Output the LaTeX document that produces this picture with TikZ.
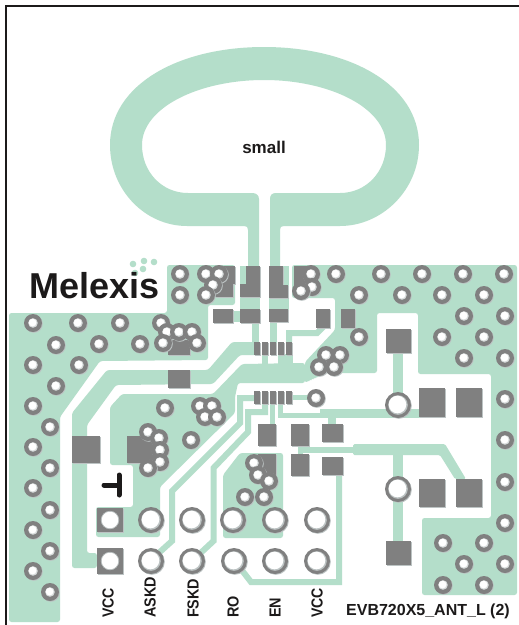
\documentclass[tikz,border=0pt]{standalone}
\usepackage{fontspec}
\setmainfont{Liberation Sans}
\definecolor{cu}{HTML}{B4DECA}
\definecolor{pd}{HTML}{808080}
\definecolor{sh}{HTML}{BCC3C3}
\definecolor{ink}{HTML}{1C1A1A}
\tikzset{
  copper/.style={fill=cu,draw=none,rounded corners=2.5pt},
  track/.style={draw=cu,line width=#1,line join=miter},
  track/.default=6pt,
  lab/.style={rotate=90,font=\bfseries\fontsize{16}{17}\selectfont,text=ink,anchor=west,inner sep=0pt}
}
\newcommand{\pcbpad}[4]{%
  \fill[sh] (#1+1.3,#2+1.3) rectangle (#3+1.3,#4+1.3);
  \fill[pd] (#1,#2) rectangle (#3,#4);}
\newcommand{\pcbvia}[2]{%
  \fill[sh] (#1+.8,#2+.8) circle (9);
  \fill[pd] (#1,#2) circle (9);
  \fill[sh!60!white] (#1,#2) circle (4.8);
  \fill[white] (#1-.4,#2-.4) circle (3.9);}
\newcommand{\pcbring}[2]{%
  \fill[sh] (#1+.8,#2+.8) circle (13);
  \fill[pd] (#1,#2) circle (13);
  \fill[sh] (#1,#2) circle (9.8);
  \fill[white] (#1-.5,#2-.5) circle (8.8);}
\begin{document}
\begin{tikzpicture}[x=1pt,y=-1pt]
\useasboundingbox (0,0) rectangle (519,625);
\fill[white] (0,0) rectangle (519,625);
% board outline
\draw[ink,line width=2pt] (5.5,625) -- (5.5,6) -- (519,6);
% loop antenna
\fill[cu] (248,266) -- (248,230) .. controls (248,227) and (247,226) .. (244,226) -- (187,226)
  .. controls (145,226) and (110,190) .. (110,145)
  .. controls (110,85) and (178,47) .. (264,47)
  .. controls (350,47) and (419,85) .. (419,145)
  .. controls (419,190) and (382,226) .. (340,226) -- (284,226)
  .. controls (281,226) and (280,227) .. (280,230) -- (280,266) -- (270,266) -- (270,199)
  .. controls (270,195) and (272,193) .. (276,193) -- (340,193)
  .. controls (366,193) and (386,172) .. (386,145)
  .. controls (386,108) and (330,80) .. (264,80)
  .. controls (198,80) and (142,108) .. (142,145)
  .. controls (142,172) and (162,193) .. (188,193) -- (252,193)
  .. controls (256,193) and (259,195) .. (259,199) -- (259,266) -- cycle;
% copper pours
\fill[copper] (9,313) -- (167,313) -- (167,265) -- (235,265) -- (235,305) -- (208,305) -- (208,360)
  -- (100,361) -- (60,417) -- (60,622) -- (9,622) -- cycle;
\fill[copper] (292,265) -- (517,265) -- (517,595) -- (422,595) -- (422,518) -- (491,518) -- (491,374)
  -- (418,374) -- (418,313) -- (377,313) -- (377,373) -- (327,373) -- (305,383) -- (305,362)
  -- (335,330) -- (335,298) -- (292,298) -- cycle;
\fill[copper] (110,465) -- (110,407) -- (122,394) -- (213,394) -- (242,364) -- (305,363) -- (305,383)
  -- (238,383) -- (235,397) -- (235,413) -- (160,487) -- (160,537) -- (96,537) -- (96,507)
  -- (133,507) -- (133,465) -- cycle;
\fill[copper] (223,475) -- (240,453) -- (283,453) -- (283,538) -- (223,538) -- cycle;
\fill[copper] (72,463) -- (72,413) -- (107,370) -- (208,370) -- (232,342) -- (260,342) -- (260,355)
  -- (240,355) -- (213,384) -- (116,385) -- (87,425) -- (87,463) -- cycle;
% short copper blocks and stems
\fill[cu] (240,266) rectangle (260,323);
\fill[cu] (269,266) rectangle (289,322);
\fill[cu] (230,311) rectangle (242,322);
\fill[cu] (252,322) rectangle (259,343);
\fill[cu] (270,322) rectangle (277,343);
\fill[cu] (262,354) rectangle (268,365);
\fill[cu] (278,354) rectangle (293,365);
\draw[white,line width=.5pt] (305,383) -- (327,373);
% tracks
\draw[track] (151,560) -- (172,541) -- (172,491) -- (240,423) -- (240,398) -- (256,398);
\draw[track] (193,560) -- (213.5,541) -- (213.5,468) -- (248,432) -- (248,412) -- (265,412) -- (265,403);
\draw[track] (324,326) -- (317,333) -- (289,333) -- (289,343);
\draw[track=5pt] (272.5,404) -- (272.5,425);
\draw[track=5pt] (280.5,404) -- (280.5,415) -- (322,415);
\fill[cu] (320,409) rectangle (440,418);
\fill[cu] (328,417) rectangle (336,425);
\draw[track=5pt] (290,397.5) -- (316,397.5);
\fill[cu] (393,352) rectangle (403,396);
\fill[cu] (393,453) rectangle (403,542);
\fill[cu] (298,447) rectangle (354,453);
\fill[cu] (298,425) rectangle (303,455);
\fill[cu,rounded corners=1.5pt] (353,444) -- (445,444) -- (466,479) -- (455,479) -- (440,455) -- (353,455) -- cycle;
\draw[track] (234,560) -- (251,582) -- (339,582) -- (339,474);
\fill[cu,rounded corners=2.5pt] (72,460) -- (87,460) -- (87,553) -- (97,553) -- (97,568) -- (72,568) -- cycle;
% logo dots
\foreach \dx/\dy in {133/264,144/261,154/262,135/273,143/269} \fill[cu] (\dx,\dy) circle (3.3);
% pads
\pcbpad{215}{266}{235}{284}
\pcbpad{215}{284}{233}{297}
\pcbpad{246}{266}{260}{284}
\pcbpad{240}{284}{260}{297}
\pcbpad{269}{266}{283}{285}
\pcbpad{269}{285}{288}{298}
\pcbpad{294}{266}{314}{285}
\pcbpad{213}{309}{233}{323}
\pcbpad{240}{309}{260}{323}
\pcbpad{269}{309}{288}{322}
\pcbpad{316}{309}{330}{328}
\pcbpad{341}{309}{355}{328}
\pcbpad{168}{340}{190}{355}
\pcbpad{168}{370}{190}{388}
\pcbpad{72}{436}{100}{463}
\pcbpad{127}{436}{153}{463}
\pcbpad{386}{329}{411}{353}
\pcbpad{419}{388}{445}{417}
\pcbpad{456}{388}{482}{417}
\pcbpad{419}{479}{445}{507}
\pcbpad{456}{479}{482}{507}
\pcbpad{386}{541}{411}{565}
\pcbpad{258}{424}{276}{446}
\pcbpad{291}{424}{309}{446}
\pcbpad{322}{424}{343}{442}
\pcbpad{258}{454}{276}{476}
\pcbpad{291}{454}{309}{476}
\pcbpad{322}{457}{343}{475}
\pcbpad{97}{508}{123}{532}
\pcbpad{97}{548}{123}{574}
% IC pins
\foreach \px in {254,262,270,278,286} {
  \pcbpad{\px}{342}{\px+6}{355}
  \pcbpad{\px}{391}{\px+6}{404}
}
% vias
\foreach \vx/\vy in {33/323,78/323,120/323,56/345,99/344,140/344,33/365,79/365,56/386,33/406,50/427,
  33/447,50/468,33/488,50/510,33/530,50/551,33/571,50/592,
  161/323,167/332,179/332,192/332,163/343,197/343,
  180/274,180/295,206/274,219/274,213/285,206/295,
  165/408,200/406,212/406,205/417,217/417,191/440,
  148/432,159/438,160/450,160/462,148/468,
  254/463,258/475,269/481,245/497,264/497,
  311/274,312/287,301/291,336/274,381/274,422/274,463/274,504/274,
  359/295,402/295,442/295,484/295,464/316,505/316,359/337,442/337,484/337,464/358,505/358,
  326/355,340/355,319/367,334/367,316/398,505/399,505/440,505/482,505/523,
  443/543,484/543,464/564,505/564,443/585,484/585}
  {\pcbvia{\vx}{\vy}}
% connector holes
\foreach \rx/\ry in {398/405,398/489,151/520,192/520,233/520,275/520,317/520,151/561,192/561,234/561,275/561,317/561}
  {\pcbring{\rx}{\ry}}
\foreach \rx/\ry in {110/520,110/561} {
  \fill[white] (\rx,\ry) circle (8.6);
  \draw[sh,line width=.7pt] (\rx,\ry) circle (8.8);
}
% polarity mark
\draw[ink,line width=5pt,line cap=round] (104,485) -- (118,485);
\draw[ink,line width=5pt,line cap=round] (119,475) -- (119,495);
% texts
\node[anchor=base west,inner sep=0pt,text=ink,font=\bfseries\fontsize{36}{37}\selectfont] (logo) at (29.5,298) {Melexis};
\node[inner sep=0pt,text=ink,font=\bfseries\fontsize{17}{18}\selectfont] (loopname) at (264,147) {small};
\node[lab] (lvcc) at (108,618) {\scalebox{.88}[1]{VCC}};
\node[lab] (lask) at (150,618) {\scalebox{.9}[1]{ASKD}};
\node[lab] (lfsk) at (193,618) {\scalebox{.9}[1]{FSKD}};
\node[lab] (lro) at (233,618) {\scalebox{.9}[1]{RO}};
\node[lab] (len) at (275,618) {\scalebox{.9}[1]{EN}};
\node[lab] (lvcb) at (317,618) {\scalebox{.88}[1]{VCC}};
\node[anchor=base west,inner sep=0pt,text=ink,font=\bfseries\fontsize{16}{17}\selectfont] (board) at (346,615) {EVB720X5\_ANT\_L (2)};
\end{tikzpicture}
\end{document}
